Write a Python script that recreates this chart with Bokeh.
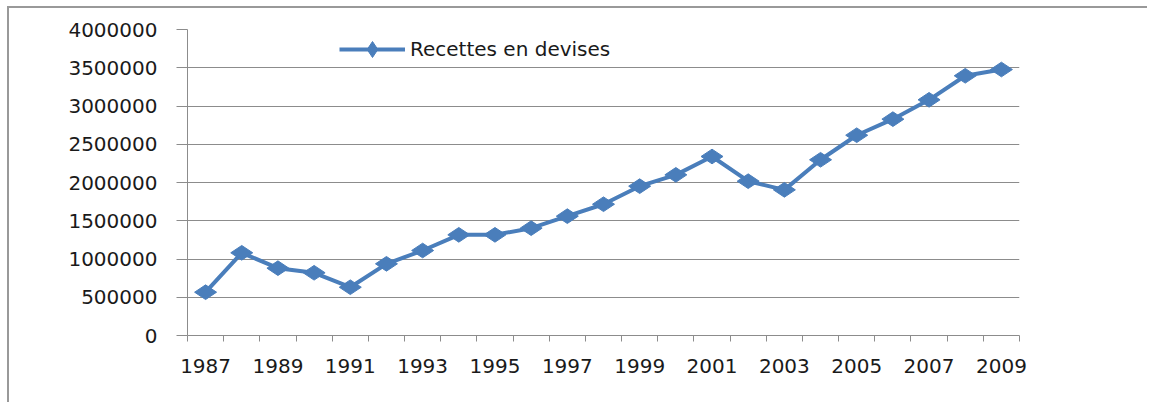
import math
from bokeh.plotting import figure
from bokeh.models import (Range1d, FixedTicker, Legend, LegendItem, ColumnDataSource,
                          BasicTickFormatter)
from bokeh.embed import file_html
from bokeh.resources import INLINE

years = ["1987", "1988", "1989", "1990", "1991", "1992", "1993", "1994", "1995", "1996",
         "1997", "1998", "1999", "2000", "2001", "2002", "2003", "2004", "2005", "2006",
         "2007", "2008", "2009"]
values = [566000, 1081000, 880000, 820000, 631000, 937000, 1111000, 1316000, 1316000,
          1403000, 1560000, 1716000, 1952000, 2100000, 2340000, 2017000, 1904000,
          2297000, 2618000, 2828000, 3081000, 3395000, 3477000]
y_ticks = [0, 500000, 1000000, 1500000, 2000000, 2500000, 3000000, 3500000, 4000000]
series_name = "Recettes en devises"

FONT = "DejaVu Sans"
BLUE = "#4a7ebb"
GRAY = "#8c8c8c"
TXT = "#1a1a1a"

n = len(years)
xs = [i + 0.5 for i in range(n)]
src = ColumnDataSource(dict(x=xs, y=values, year=years))

p = figure(width=1140, height=396, output_backend="svg", toolbar_location=None,
           x_range=Range1d(0, n), y_range=Range1d(0, 4000000))
p.min_border_left = 178
p.min_border_right = 130
p.min_border_top = 21
p.min_border_bottom = 69
p.outline_line_color = None
p.background_fill_color = "white"
p.border_fill_color = "white"
p.styles = {"border-top": "2px solid #999999", "border-left": "2px solid #999999",
            "margin-left": "7px", "margin-top": "6px"}

# x axis: boundary ticks as minor ticks, labels every other year
label_pos = [xs[i] for i in range(0, n, 2)]
p.xaxis.ticker = FixedTicker(ticks=label_pos, minor_ticks=list(range(n + 1)))
p.xaxis.major_label_overrides = {xs[i]: years[i] for i in range(0, n, 2)}
p.xaxis.major_tick_out = 0
p.xaxis.major_tick_in = 0
p.xaxis.minor_tick_out = 6
p.xaxis.minor_tick_in = 0
p.xaxis.minor_tick_line_color = GRAY
p.xaxis.axis_line_color = GRAY
p.xaxis.major_label_standoff = 17
p.xaxis.major_label_text_font = FONT
p.xaxis.major_label_text_font_size = "20px"
p.xaxis.major_label_text_color = TXT

# y axis
p.yaxis.ticker = FixedTicker(ticks=y_ticks)
p.yaxis.formatter = BasicTickFormatter(use_scientific=False)
p.yaxis.major_tick_out = 11
p.yaxis.major_tick_in = 0
p.yaxis.minor_tick_line_color = None
p.yaxis.major_tick_line_color = GRAY
p.yaxis.axis_line_color = GRAY
p.yaxis.major_label_standoff = 19
p.yaxis.major_label_text_font = FONT
p.yaxis.major_label_text_font_size = "20px"
p.yaxis.major_label_text_color = TXT

p.xgrid.visible = False
p.ygrid.ticker = FixedTicker(ticks=y_ticks)
p.ygrid.grid_line_color = GRAY
p.ygrid.grid_line_width = 1

ln = p.line("x", "y", source=src, line_color=BLUE, line_width=4)
sc = p.scatter("x", "y", source=src, marker="diamond", angle=math.pi / 2, size=22,
               fill_color=BLUE, line_color=BLUE)

legend = Legend(items=[LegendItem(label=series_name, renderers=[ln, sc])],
                location=(152, 266), padding=0, margin=0, spacing=0,
                glyph_width=66, glyph_height=40, label_height=20, label_standoff=5,
                background_fill_alpha=0, border_line_alpha=0,
                label_text_font=FONT, label_text_font_size="20px",
                label_text_color=TXT)
p.add_layout(legend)

open("out.html", "w").write(file_html(p, INLINE))
